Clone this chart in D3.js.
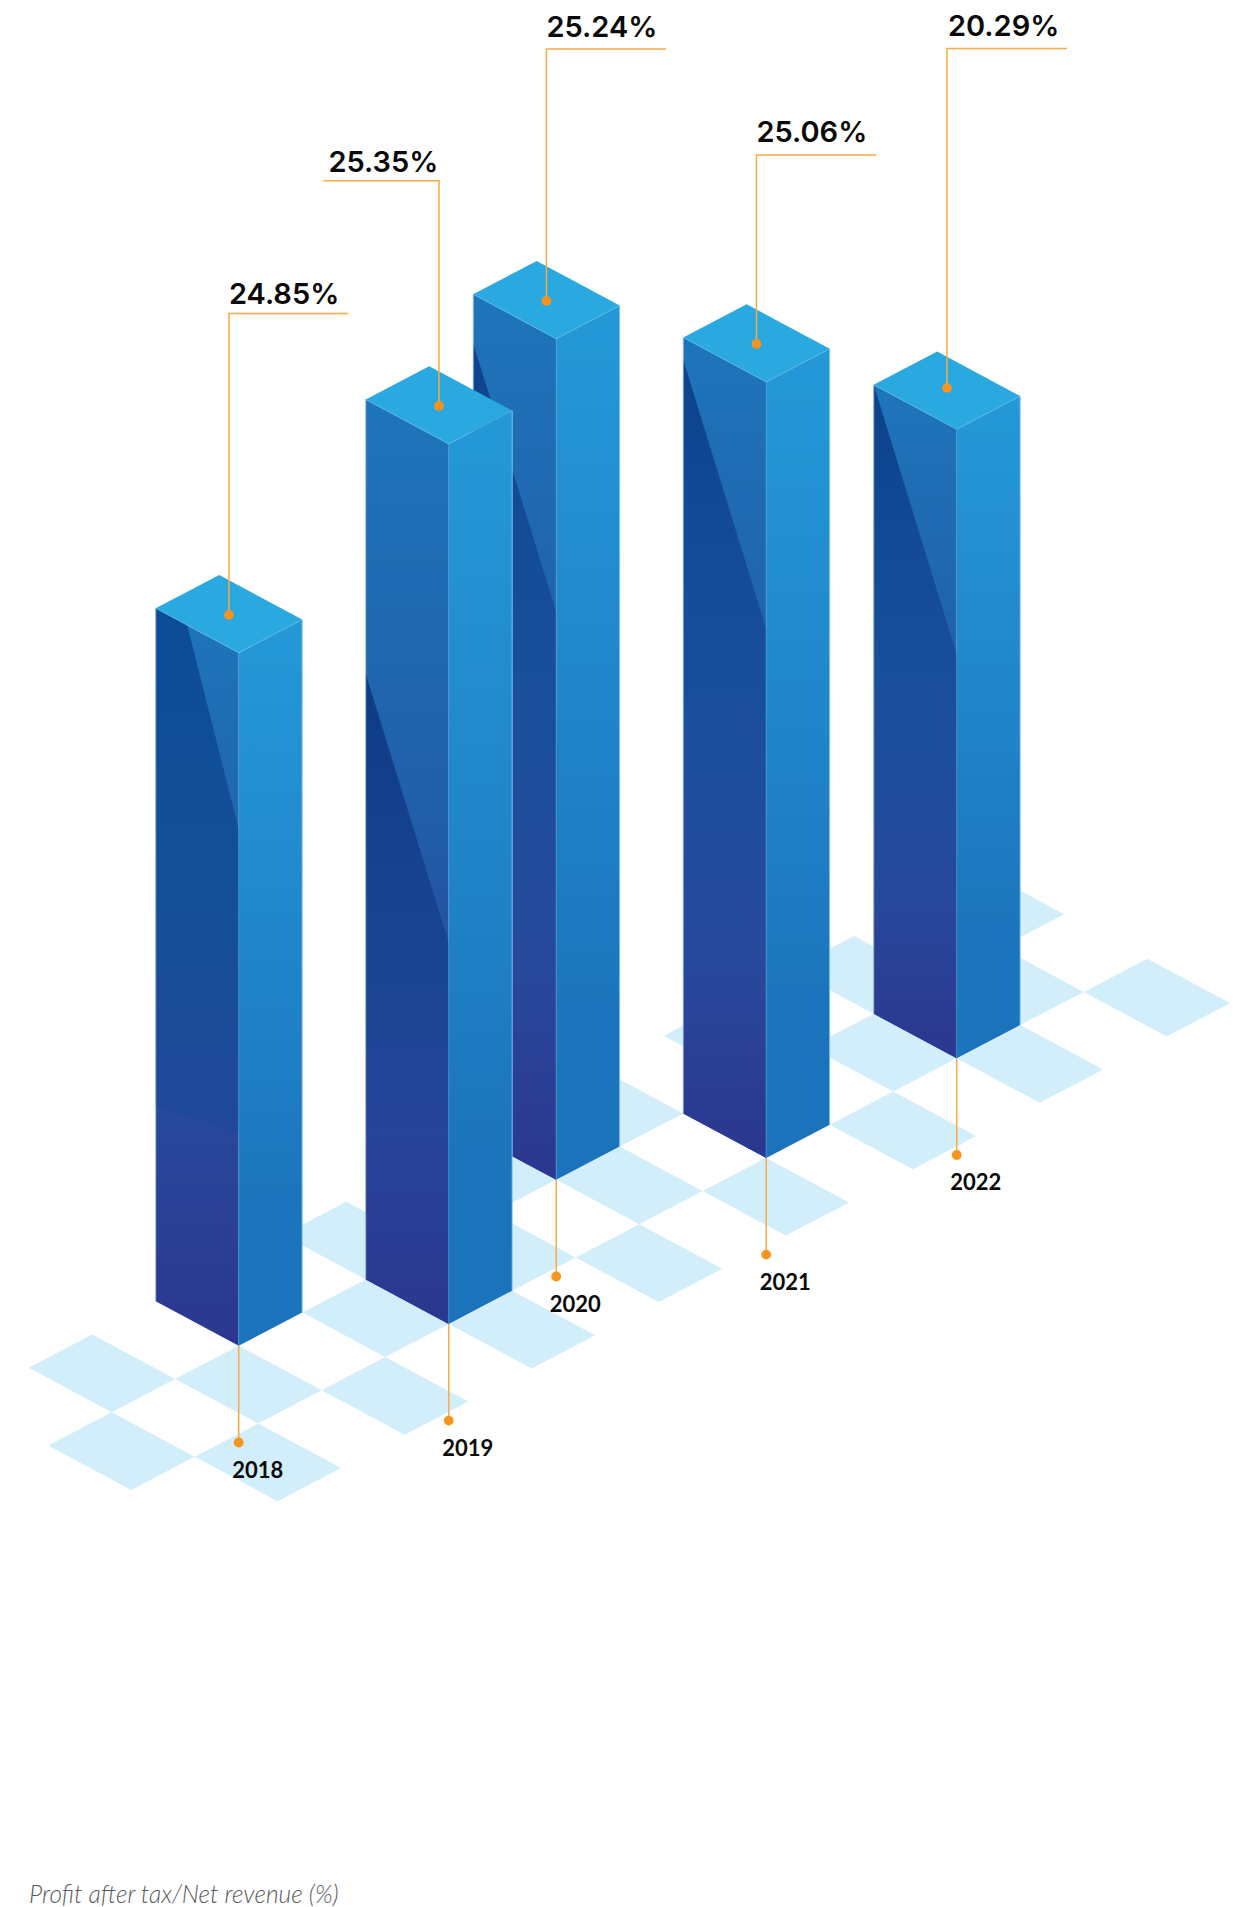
<!DOCTYPE html>
<html><head><meta charset="utf-8">
<style>html,body{margin:0;padding:0;background:#fff}svg{display:block}</style>
<script src="https://cdn.jsdelivr.net/npm/d3@7"></script>
</head><body><svg id="c" width="1240" height="1907"></svg>
<script>
// ---- data ----
const years = ["2018","2019","2020","2021","2022"];
const values = [24.85,25.35,25.24,25.06,20.29];
const gridU = [2,4,7,9,12];
const gridV = [0,1,0,1,1];
const tileRow0 = [0,4,6,8,10,12,14];
const tileRow1 = [-1,1,3,5,7,11,13];
const tileRow2 = [0,2,4,6,8,10,12,14];

// ---- layout ----
const W=1240,H=1907;
const svg=d3.select("#c");
const defs=svg.append("defs");
// The reference's bar heights are illustrative, not proportional: piecewise value→height scale.
const heightScale=d3.scaleLinear().domain([20.29,24.85,25.06,25.24,25.35]).range([629,693,776,841,880]);
// isometric floor projection
const uxScale=d3.scaleLinear().domain([0,1]).range([0,63.5]);
const uyScale=d3.scaleLinear().domain([0,1]).range([0,-33.2]);
const vxScale=d3.scaleLinear().domain([0,1]).range([0,83]);
const vyScale=d3.scaleLinear().domain([0,1]).range([0,44.5]);
const O=[28.7,1367.7];
const P=(u,v)=>[O[0]+uxScale(u)+vxScale(v),O[1]+uyScale(u)+vyScale(v)];
const poly=d3.line();
const closed=p=>poly(p)+"Z";
const cell=(u,v)=>[P(u,v),P(u+1,v),P(u+1,v+1),P(u,v+1)];

// floor tiles
const tiles=[...tileRow0.map(u=>[u,0]),...tileRow1.map(u=>[u,1]),...tileRow2.map(u=>[u,2])];
svg.append("g").selectAll("path").data(tiles).join("path")
  .attr("d",d=>closed(cell(d[0],d[1]))).attr("fill","#d3eefb");

// per-bar shading of the left face
const shade={
 "2018":{f:0.38,d0:0,d1:176,endL:498,endR:481,stops:[[0,"#0c4c97"],[.4,"#155097"],[.7,"#21489a"],[1,"#2c378f"]]},
 "2019":{f:0,d0:274,d1:499,stops:[[0,"#0c3a85"],[.3,"#0e3b86"],[.6,"#194592"],[.8,"#27449a"],[1,"#2c378f"]]},
 "2020":{f:0,d0:49,d1:273,stops:[[0,"#0d418c"],[.25,"#134b96"],[.5,"#1b4f9c"],[.75,"#27499c"],[1,"#2c378f"]]},
 "2021":{f:0,d0:22,d1:247,stops:[[0,"#0d418c"],[.25,"#134b96"],[.5,"#1b4f9c"],[.75,"#27499c"],[1,"#2c378f"]]},
 "2022":{f:0,d0:0,d1:225,stops:[[0,"#0d418c"],[.25,"#134b96"],[.5,"#1b4f9c"],[.75,"#27499c"],[1,"#2c378f"]]}
};
// leader layout: y of the label rule, horizontal run, label x offset, text gap above rule, dot y nudge
const leader={
 "2018":{y:313.6,run:119,lx:0,gap:9.5,dd:.9},
 "2019":{y:180.7,run:-115.5,lx:-110.5,gap:8.5,dd:.9},
 "2020":{y:49,run:119.7,lx:0,gap:12.3,dd:.9},
 "2021":{y:155,run:120,lx:0,gap:13,dd:.9},
 "2022":{y:48.6,run:120,lx:1,gap:12.3,dd:-2.6}
};
const orange="#f7941d", rule="#f9a947";

const bars=years.map((y,i)=>({year:y,value:values[i],u:gridU[i],v:gridV[i],h:heightScale(values[i])}));
const order=[4,3,2,1,0].map(i=>bars[i]);

function grad(id,y1,y2,stops){
  const g=defs.append("linearGradient").attr("id",id).attr("gradientUnits","userSpaceOnUse")
    .attr("x1",0).attr("x2",0).attr("y1",y1).attr("y2",y2);
  stops.forEach(s=>g.append("stop").attr("offset",s[0]).attr("stop-color",s[1]));
}
const gBars=svg.append("g");
order.forEach(b=>{
  const L=P(b.u,b.v),F=P(b.u,b.v+1),R=P(b.u+1,b.v+1),B=P(b.u+1,b.v);
  const up=p=>[p[0],p[1]-b.h];
  const tL=up(L),tF=up(F),tR=up(R),tB=up(B);
  const g=gBars.append("g").attr("class","bar");
  const s=shade[b.year];
  grad("base"+b.year,tL[1],F[1],[[0,"#1e75bb"],[.45,"#215ea9"],[.72,"#28469a"],[1,"#2c378f"]]);
  grad("dark"+b.year,tL[1],F[1],s.stops);
  grad("right"+b.year,tR[1],F[1],[[0,"#2499d7"],[.5,"#2083c8"],[.8,"#1c75bc"],[1,"#1b74bb"]]);
  g.append("path").attr("d",closed([tL,tF,F,L])).attr("fill",`url(#base${b.year})`);
  const edge=(f,d)=>[tL[0]+(tF[0]-tL[0])*f,tL[1]+(tF[1]-tL[1])*f+d];
  const botL=s.endL?edge(0,s.endL):L, botR=s.endR?edge(1,s.endR):F;
  const pts=s.f>0?[tL,edge(s.f,s.d0),edge(1,s.d1),botR,botL]:[edge(0,s.d0),edge(1,s.d1),botR,botL];
  g.append("path").attr("d",closed(pts)).attr("fill",`url(#dark${b.year})`);
  g.append("path").attr("d",closed([tF,tR,R,F])).attr("fill",`url(#right${b.year})`);
  g.append("path").attr("d",closed([tL,tB,tR,tF])).attr("fill","#29a9e0");
  // hairline highlights
  g.append("path").attr("d",poly([L,tL])).attr("stroke","#a9c4e4").attr("stroke-width",.9).attr("fill","none");
  g.append("path").attr("d",poly([R,tR])).attr("stroke","#8ccaee").attr("stroke-width",.9).attr("fill","none");
  g.append("path").attr("d",poly([F,tF])).attr("stroke","#4a9ad6").attr("stroke-width",.7).attr("fill","none");
  g.append("path").attr("d",poly([tL,tF,tR])).attr("stroke","#63bde9").attr("stroke-width",.6).attr("fill","none");
});

// leaders + labels on top of all bars
const gLab=svg.append("g");
bars.forEach(b=>{
  const c=P(b.u+.5,b.v+.5); 
  const l=leader[b.year];
  const dot=[c[0],c[1]-b.h+l.dd];
  gLab.append("path").attr("d",poly([dot,[dot[0],l.y],[dot[0]+l.run,l.y]]))
    .attr("fill","none").attr("stroke",rule).attr("stroke-width",1.5);
  gLab.append("circle").attr("cx",dot[0]).attr("cy",dot[1]).attr("r",4.9).attr("fill",orange);
  gLab.append("text").attr("x",dot[0]+l.lx).attr("y",l.y-l.gap)
    .attr("font-family","Inter").attr("font-weight",600).attr("font-size",29).attr("fill","#0a0a0a")
    .text(b.value.toFixed(2)+"%");
  const F=P(b.u,b.v+1);
  const dy=F[1]+96.7;
  gLab.append("line").attr("x1",F[0]).attr("x2",F[0]).attr("y1",F[1]).attr("y2",dy)
    .attr("stroke",rule).attr("stroke-width",1.5);
  gLab.append("circle").attr("cx",F[0]).attr("cy",dy).attr("r",4.9).attr("fill",orange);
  gLab.append("text").attr("x",F[0]-6.5).attr("y",dy+35)
    .attr("font-family","Lato").attr("font-weight",700).attr("font-size",22).attr("fill","#0a0a0a")
    .text(b.year);
});
svg.append("text").attr("x",29).attr("y",1903)
  .attr("font-family","Lato").attr("font-style","italic").attr("font-weight",300)
  .attr("font-size",24.5).attr("fill","#58595b").text("Profit after tax/Net revenue (%)");
</script></body></html>
